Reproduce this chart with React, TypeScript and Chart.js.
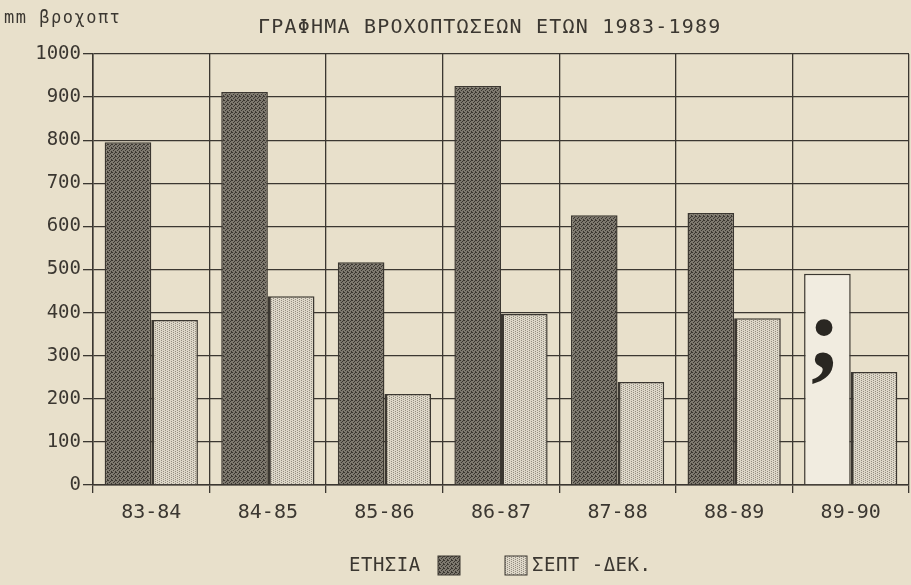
import React, { useEffect, useRef } from "react";
import { Chart, registerables } from "chart.js";

Chart.register(...registerables);

const categories = ["83-84", "84-85", "85-86", "86-87", "87-88", "88-89", "89-90"];
const annual = [795, 912, 517, 926, 626, 631, 490];
const septDec = [383, 438, 211, 397, 239, 387, 262];
const unknownIndex = 6;
const titleText = "ΓΡΑΦΗΜΑ ΒΡΟΧΟΠΤΩΣΕΩΝ ΕΤΩΝ 1983-1989";
const unitText = "mm βροχοπτ";
const legendAnnual = "ΕΤΗΣΙΑ";
const legendSeptDec = "ΣΕΠΤ -ΔΕΚ.";

const INK = "#3b3731";
const PAPER = "#e8e0cb";
const FONT = "'DejaVu Sans Mono', monospace";

function makePattern(bg: string, dot: string, pts: number[][]) {
  const c = document.createElement("canvas");
  c.width = 4;
  c.height = 4;
  const g = c.getContext("2d")!;
  g.fillStyle = bg;
  g.fillRect(0, 0, 4, 4);
  g.fillStyle = dot;
  pts.forEach(([x, y]) => g.fillRect(x, y, 1, 1));
  return g.createPattern(c, "repeat")!;
}

export default function App() {
  const ref = useRef<HTMLCanvasElement | null>(null);

  useEffect(() => {
    document.body.style.margin = "0";
    const canvas = ref.current!;
    const darkPat = makePattern("#7e796f", "#3a3630", [[0, 0], [2, 1], [1, 2], [3, 3], [3, 0]]);
    const lightPat = makePattern("#ddd7c8", "#948e82", [[1, 0], [1, 2], [3, 1], [3, 3]]);

    const annualColors = annual.map((_, i) => (i === unknownIndex ? "#f1ece0" : darkPat));

    const extras = {
      id: "extras",
      afterDraw(chart: any) {
        const ctx = chart.ctx;
        ctx.save();
        ctx.fillStyle = INK;
        ctx.textBaseline = "middle";
        ctx.font = `17px ${FONT}`;
        ctx.textAlign = "left";
        (ctx as any).letterSpacing = "1.5px";
        ctx.fillText(unitText, 4, 19);
        ctx.font = `20px ${FONT}`;
        (ctx as any).letterSpacing = "1.2px";
        ctx.fillText(titleText, 258, 28);

        // legend
        ctx.font = `19px ${FONT}`;
        (ctx as any).letterSpacing = "0.5px";
        ctx.fillText(legendAnnual, 349, 566);
        ctx.fillStyle = darkPat;
        ctx.fillRect(438, 556, 22, 19);
        ctx.strokeStyle = INK;
        ctx.lineWidth = 1;
        ctx.strokeRect(438, 556, 22, 19);
        ctx.fillStyle = lightPat;
        ctx.fillRect(505, 556, 22, 19);
        ctx.strokeRect(505, 556, 22, 19);
        ctx.fillStyle = INK;
        ctx.fillText(legendSeptDec, 532, 566);
        (ctx as any).letterSpacing = "0px";

        // semicolon in unknown bar
        const bar = chart.getDatasetMeta(0).data[unknownIndex];
        if (bar) {
          ctx.font = `bold 104px 'Liberation Serif', serif`;
          ctx.textAlign = "center";
          ctx.textBaseline = "alphabetic";
          ctx.fillStyle = "#2a2722";
          ctx.fillText(";", bar.x - 3, 368);
        }
        ctx.restore();
      },
    };

    const chart = new Chart(canvas, {
      type: "bar",
      data: {
        labels: categories,
        datasets: [
          {
            label: legendAnnual,
            data: annual,
            backgroundColor: annualColors as any,
            borderColor: INK,
            borderWidth: 1.5,
            categoryPercentage: 0.8,
            barPercentage: 1.0,
          },
          {
            label: legendSeptDec,
            data: septDec,
            backgroundColor: lightPat as any,
            borderColor: INK,
            borderWidth: { left: 3, top: 1.5, right: 1.5, bottom: 0 } as any,
            categoryPercentage: 0.8,
            barPercentage: 1.0,
          },
        ],
      },
      options: {
        animation: false,
        responsive: true,
        maintainAspectRatio: false,
        layout: { padding: { top: 54, right: 2, left: 0, bottom: 0 } },
        plugins: {
          legend: { display: false },
          title: { display: false },
          tooltip: { enabled: false },
        },
        scales: {
          x: {
            offset: true,
            grid: {
              display: true,
              offset: true,
              color: INK,
              lineWidth: 1.3,
              tickLength: 8,
            },
            border: { display: true, color: INK, width: 1.5 },
            ticks: {
              color: INK,
              font: { family: FONT, size: 20 },
              padding: 8,
            },
            afterFit(scale: any) {
              scale.height = 100;
            },
          },
          y: {
            min: 0,
            max: 1000,
            ticks: {
              stepSize: 100,
              color: INK,
              font: { family: FONT, size: 19 },
              padding: 2,
              callback: (v: any) => String(v),
            },
            grid: {
              color: INK,
              lineWidth: 1.3,
              tickLength: 10,
            },
            border: { display: true, color: INK, width: 1.5 },
            afterFit(scale: any) {
              scale.width = 93;
            },
          },
        },
      },
      plugins: [extras],
    });
    return () => chart.destroy();
  }, []);

  return (
    <div style={{ width: 911, height: 585, background: PAPER, position: "relative" }}>
      <canvas ref={ref} />
    </div>
  );
}
